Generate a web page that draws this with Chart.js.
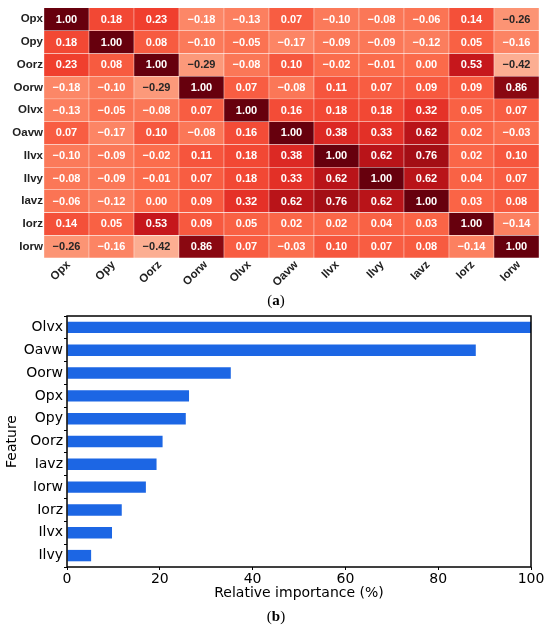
<!DOCTYPE html>
<html>
<head>
<meta charset="utf-8">
<script src="https://cdn.jsdelivr.net/npm/chart.js@4.4.1/dist/chart.umd.min.js"></script>
<style>
  body { margin: 0; background: #fff; }
  #wrap { position: relative; width: 550px; height: 632px; overflow: hidden; }
  canvas { position: absolute; left: 0; }
  #heat { top: 0; }
  #bars { top: 305px; }
  .tag { position: absolute; left: 0; width: 552px; text-align: center;
         font: 15px "Liberation Serif", "DejaVu Serif", serif; color: #000; }
</style>
</head>
<body>
<div id="wrap">
  <canvas id="heat" width="550" height="296"></canvas>
  <div class="tag" style="top:292px">(<b>a</b>)</div>
  <canvas id="bars" width="550" height="300"></canvas>
  <div class="tag" style="top:608px">(<b>b</b>)</div>
</div>
<script>
// ---- (a) correlation matrix ----
const varNames = ['Opx', 'Opy', 'Oorz', 'Oorw', 'Olvx', 'Oavw', 'Ilvx', 'Ilvy', 'Iavz', 'Iorz', 'Iorw'];
const corrOpx  = [1.00, 0.18, 0.23, -0.18, -0.13, 0.07, -0.10, -0.08, -0.06, 0.14, -0.26];
const corrOpy  = [0.18, 1.00, 0.08, -0.10, -0.05, -0.17, -0.09, -0.09, -0.12, 0.05, -0.16];
const corrOorz = [0.23, 0.08, 1.00, -0.29, -0.08, 0.10, -0.02, -0.01, 0.00, 0.53, -0.42];
const corrOorw = [-0.18, -0.10, -0.29, 1.00, 0.07, -0.08, 0.11, 0.07, 0.09, 0.09, 0.86];
const corrOlvx = [-0.13, -0.05, -0.08, 0.07, 1.00, 0.16, 0.18, 0.18, 0.32, 0.05, 0.07];
const corrOavw = [0.07, -0.17, 0.10, -0.08, 0.16, 1.00, 0.38, 0.33, 0.62, 0.02, -0.03];
const corrIlvx = [-0.10, -0.09, -0.02, 0.11, 0.18, 0.38, 1.00, 0.62, 0.76, 0.02, 0.10];
const corrIlvy = [-0.08, -0.09, -0.01, 0.07, 0.18, 0.33, 0.62, 1.00, 0.62, 0.04, 0.07];
const corrIavz = [-0.06, -0.12, 0.00, 0.09, 0.32, 0.62, 0.76, 0.62, 1.00, 0.03, 0.08];
const corrIorz = [0.14, 0.05, 0.53, 0.09, 0.05, 0.02, 0.02, 0.04, 0.03, 1.00, -0.14];
const corrIorw = [-0.26, -0.16, -0.42, 0.86, 0.07, -0.03, 0.10, 0.07, 0.08, -0.14, 1.00];
const corrRows = [corrOpx, corrOpy, corrOorz, corrOorw, corrOlvx, corrOavw,
                  corrIlvx, corrIlvy, corrIavz, corrIorz, corrIorw];

// ---- (b) feature importance ----
const features = ['Olvx', 'Oavw', 'Oorw', 'Opx', 'Opy', 'Oorz', 'Iavz', 'Iorw', 'Iorz', 'Ilvx', 'Ilvy'];
const importance = [100, 88.1, 35.3, 26.3, 25.6, 20.6, 19.3, 17.0, 11.8, 9.7, 5.2];
const importanceTicks = [0, 20, 40, 60, 80, 100];

// matplotlib "Reds", mapped over -1..1
const redsStops = ['#fff5f0', '#fee0d2', '#fcbba1', '#fc9272', '#fb6a4a', '#ef3b2c', '#cb181d', '#a50f15', '#67000d'];
function hexRgb(h) { return [1, 3, 5].map(i => parseInt(h.substr(i, 2), 16)); }
function redsRgb(v) {
  const t = Math.max(0, Math.min(1, (v + 1) / 2)) * (redsStops.length - 1);
  const i = Math.min(Math.floor(t), redsStops.length - 2);
  const f = t - i;
  const a = hexRgb(redsStops[i]), b = hexRgb(redsStops[i + 1]);
  return a.map((x, k) => Math.round(x + (b[k] - x) * f));
}
function rgbStr(c) { return 'rgb(' + c.join(',') + ')'; }
function textColour(v) {
  const lin = redsRgb(v).map(c => { c /= 255; return c <= 0.03928 ? c / 12.92 : Math.pow((c + 0.055) / 1.055, 2.4); });
  const lum = 0.2126 * lin[0] + 0.7152 * lin[1] + 0.0722 * lin[2];
  return lum > 0.408 ? '#262626' : '#ffffff';
}
function fmt(v) { return (v < 0 ? '\u2212' : '') + Math.abs(v).toFixed(2); }

const heatFont = '"Liberation Sans", Arial, sans-serif';

const heatText = {
  id: 'heatText',
  afterDatasetsDraw(chart) {
    const ctx = chart.ctx;
    ctx.save();
    ctx.font = 'bold 11px ' + heatFont;
    ctx.textAlign = 'center';
    ctx.textBaseline = 'middle';
    chart.data.datasets.forEach((ds, r) => {
      chart.getDatasetMeta(r).data.forEach((bar, c) => {
        const v = corrRows[r][c];
        ctx.fillStyle = textColour(v);
        ctx.fillText(fmt(v), bar.x, (bar.y + bar.base) / 2 + 0.5);
      });
    });
    ctx.restore();
  },
  afterDraw(chart) {
    // column names, rotated 45deg, ending just right of each column centre
    const ctx = chart.ctx, xs = chart.scales.x;
    const top = chart.chartArea.bottom + 1;
    ctx.save();
    ctx.font = 'bold 11.5px ' + heatFont;
    ctx.fillStyle = '#222';
    ctx.textAlign = 'center';
    ctx.textBaseline = 'middle';
    varNames.forEach((name, c) => {
      const w = ctx.measureText(name).width;
      const half = (w + 11) * Math.SQRT1_2 / 2;
      ctx.save();
      ctx.translate(xs.getPixelForValue(c) - 6, top + half);
      ctx.rotate(-Math.PI / 4);
      ctx.fillText(name, 0, 0);
      ctx.restore();
    });
    ctx.restore();
  }
};

new Chart(document.getElementById('heat'), {
  type: 'bar',
  data: {
    labels: varNames,
    datasets: corrRows.map((row, r) => ({
      data: row.map(() => [r, r + 1]),
      backgroundColor: row.map(v => rgbStr(redsRgb(v))),
      borderColor: '#ffffff',
      borderWidth: 0.5,
      borderSkipped: false,
      grouped: false,
      barPercentage: 1,
      categoryPercentage: 1
    }))
  },
  options: {
    responsive: false,
    animation: false,
    layout: { padding: { top: 5, right: 11, bottom: 38, left: 0 } },
    plugins: { legend: { display: false }, tooltip: { enabled: false } },
    scales: {
      x: { display: false },
      y: {
        reverse: true, min: 0, max: varNames.length,
        afterBuildTicks(axis) { axis.ticks = varNames.map((n, i) => ({ value: i + 0.5 })); },
        afterFit(axis) { axis.width = 44; },
        ticks: {
          callback: v => varNames[Math.floor(v)],
          color: '#222', padding: 1,
          font: { family: heatFont, size: 11.5, weight: 'bold' }
        },
        grid: { display: false, drawTicks: false },
        border: { display: false }
      }
    }
  },
  plugins: [heatText]
});

const frame = {
  id: 'frame',
  afterDraw(chart) {
    const { left, top, right, bottom } = chart.chartArea;
    const ctx = chart.ctx;
    ctx.save();
    ctx.strokeStyle = '#000';
    ctx.lineWidth = 1.5;
    ctx.strokeRect(left, top, right - left, bottom - top);
    ctx.restore();
  }
};

const axisFont = { family: '"DejaVu Sans", sans-serif', size: 14 };

new Chart(document.getElementById('bars'), {
  type: 'bar',
  data: {
    labels: features,
    datasets: [{
      data: importance,
      backgroundColor: '#1c66e4',
      barPercentage: 0.5,
      categoryPercentage: 1
    }]
  },
  options: {
    indexAxis: 'y',
    responsive: false,
    animation: false,
    layout: { padding: { top: 11, right: 19, bottom: 0, left: 0 } },
    plugins: { legend: { display: false }, tooltip: { enabled: false } },
    scales: {
      x: {
        min: 0, max: 100,
        afterBuildTicks(axis) { axis.ticks = importanceTicks.map(v => ({ value: v })); },
        afterFit(axis) { axis.height = 38; },
        ticks: { color: '#000', font: axisFont, padding: 1, maxRotation: 0 },
        grid: { drawOnChartArea: false, tickLength: 3, color: '#000', tickWidth: 1 },
        border: { display: false },
        title: { display: true, text: 'Relative importance (%)', color: '#000', font: axisFont, padding: { top: 0, bottom: 3 } }
      },
      y: {
        afterFit(axis) { axis.width = 67; },
        ticks: { color: '#000', font: axisFont, padding: 1 },
        grid: { drawOnChartArea: false, tickLength: 3, color: '#000', tickWidth: 1 },
        border: { display: false },
        title: { display: true, text: 'Feature', color: '#000', font: axisFont, padding: { top: 4, bottom: 4 } }
      }
    }
  },
  plugins: [frame]
});
</script>
</body>
</html>
